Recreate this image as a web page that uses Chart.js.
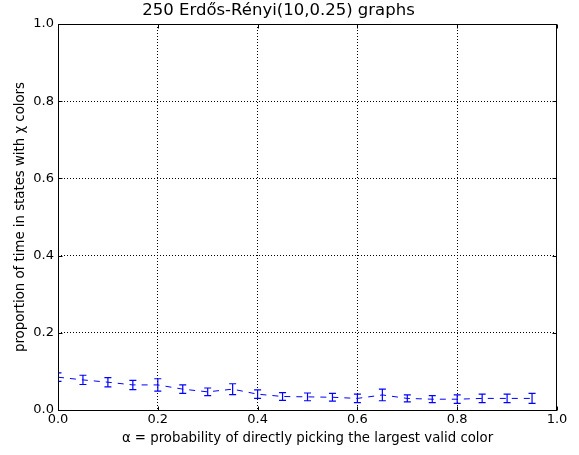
<!DOCTYPE html>
<html>
<head>
<meta charset="utf-8">
<script src="https://cdn.jsdelivr.net/npm/chart.js@4.4.1/dist/chart.umd.min.js"></script>
<style>
  html, body { margin: 0; padding: 0; background: #fff; }
  #wrap { width: 579px; height: 455px; }
</style>
</head>
<body>
<div id="wrap"><canvas id="c" width="579" height="455"></canvas></div>
<script>
// alpha values (probability of directly picking the largest valid color)
const alphas = [0.00, 0.05, 0.10, 0.15, 0.20, 0.25, 0.30, 0.35, 0.40, 0.45,
                0.50, 0.55, 0.60, 0.65, 0.70, 0.75, 0.80, 0.85, 0.90, 0.95];
// mean proportion of time spent in states using chi colors
const proportions = [0.085, 0.078, 0.072, 0.065, 0.065, 0.054, 0.047, 0.054, 0.041, 0.035,
                     0.034, 0.033, 0.030, 0.039, 0.030, 0.028, 0.028, 0.030, 0.030, 0.030];
// half-width of each error bar
const errors = [0.011, 0.012, 0.012, 0.012, 0.016, 0.011, 0.010, 0.014, 0.011, 0.010,
                0.010, 0.010, 0.011, 0.015, 0.009, 0.009, 0.011, 0.011, 0.011, 0.013];
// axis tick values
const xTicks = [0.0, 0.2, 0.4, 0.6, 0.8, 1.0];
const yTicks = [0.0, 0.2, 0.4, 0.6, 0.8, 1.0];

const FONT = 'DejaVu Sans';
const BLUE = 'rgb(0,0,255)';

const points = alphas.map((a, i) => ({ x: a, y: proportions[i] }));

// Frame, inward tick marks and error bars
const axesDecor = {
  id: 'axesDecor',
  afterDatasetsDraw(chart) {
    const ctx = chart.ctx;
    const area = chart.chartArea;
    const xs = chart.scales.x, ys = chart.scales.y;

    // error bars with caps
    ctx.save();
    ctx.beginPath();
    ctx.rect(area.left, area.top, area.right - area.left, area.bottom - area.top);
    ctx.clip();
    ctx.strokeStyle = BLUE;
    ctx.lineWidth = 1.2;
    ctx.setLineDash([]);
    alphas.forEach((a, i) => {
      const px = xs.getPixelForValue(a);
      const yTop = ys.getPixelForValue(proportions[i] + errors[i]);
      const yBot = ys.getPixelForValue(proportions[i] - errors[i]);
      ctx.beginPath();
      ctx.moveTo(px, yTop); ctx.lineTo(px, yBot);
      ctx.moveTo(px - 3.5, yTop); ctx.lineTo(px + 3.5, yTop);
      ctx.moveTo(px - 3.5, yBot); ctx.lineTo(px + 3.5, yBot);
      ctx.stroke();
    });
    ctx.restore();

    // axes frame
    const L = Math.round(area.left) + 0.5, R = Math.round(area.right) - 0.5;
    const T = Math.round(area.top) + 0.5, B = Math.round(area.bottom) + 0.5;
    ctx.save();
    ctx.strokeStyle = '#000';
    ctx.lineWidth = 1;
    ctx.setLineDash([]);
    ctx.strokeRect(L, T, R - L, B - T);

    // inward ticks on all four sides
    const len = 4;
    ctx.beginPath();
    xTicks.forEach(v => {
      const px = Math.round(xs.getPixelForValue(v)) + 0.5;
      ctx.moveTo(px, B); ctx.lineTo(px, B - len);
      ctx.moveTo(px, T); ctx.lineTo(px, T + len);
    });
    yTicks.forEach(v => {
      const py = Math.round(ys.getPixelForValue(v)) + 0.5;
      ctx.moveTo(L, py); ctx.lineTo(L + len, py);
      ctx.moveTo(R, py); ctx.lineTo(R - len, py);
    });
    ctx.stroke();
    ctx.restore();
  }
};

const gridColor = (c) => {
  const v = c.tick ? c.tick.value : null;
  return (v === 0 || v === 1) ? 'rgba(0,0,0,0)' : '#000';
};

new Chart(document.getElementById('c'), {
  type: 'line',
  data: {
    datasets: [{
      data: points,
      borderColor: BLUE,
      borderWidth: 1,
      borderDash: [6, 6],
      pointRadius: 0,
      fill: false,
      tension: 0
    }]
  },
  options: {
    responsive: false,
    animation: false,
    layout: { padding: { left: 0, right: 22, top: 0, bottom: 0 } },
    plugins: {
      legend: { display: false },
      tooltip: { enabled: false },
      title: {
        display: true,
        text: '250 Erdős-Rényi(10,0.25) graphs',
        color: '#000',
        font: { family: FONT, size: 16.5, weight: 'normal', lineHeight: 1.2 },
        padding: { top: 1, bottom: 3.2 }
      }
    },
    scales: {
      x: {
        type: 'linear',
        min: 0, max: 1,
        afterBuildTicks: (s) => { s.ticks = xTicks.map(v => ({ value: v })); },
        afterFit: (s) => { s.height = 45; },
        ticks: {
          color: '#000',
          padding: 2,
          maxRotation: 0,
          font: { family: FONT, size: 13 },
          callback: (v) => Number(v).toFixed(1)
        },
        grid: { color: gridColor, lineWidth: 1, drawTicks: false },
        border: { display: false, dash: [1, 2] },
        title: {
          display: true,
          text: 'α = probability of directly picking the largest valid color',
          color: '#000',
          font: { family: FONT, size: 13.3 },
          padding: { top: 0, bottom: 8 }
        }
      },
      y: {
        type: 'linear',
        min: 0, max: 1,
        afterBuildTicks: (s) => { s.ticks = yTicks.map(v => ({ value: v })); },
        afterFit: (s) => { s.width = 58; },
        ticks: {
          color: '#000',
          padding: 4,
          font: { family: FONT, size: 13 },
          callback: (v) => Number(v).toFixed(1)
        },
        grid: { color: gridColor, lineWidth: 1, drawTicks: false },
        border: { display: false, dash: [1, 2] },
        title: {
          display: true,
          text: 'proportion of time in states with χ colors',
          color: '#000',
          font: { family: FONT, size: 13.3 },
          padding: { top: 13, bottom: 13 }
        }
      }
    }
  },
  plugins: [axesDecor]
});
</script>
</body>
</html>
